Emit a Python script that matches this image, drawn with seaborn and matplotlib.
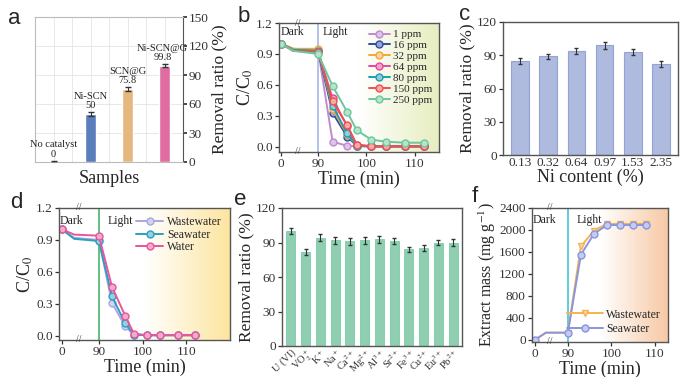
import numpy as np
import pandas as pd
import matplotlib
matplotlib.use("Agg")
import matplotlib.pyplot as plt
import matplotlib.transforms as mtransforms
from matplotlib.colors import LinearSegmentedColormap, to_rgb
import seaborn as sns

sns.set_theme(style="ticks")
plt.rcParams['font.family'] = ['Liberation Serif', 'DejaVu Serif']
plt.rcParams['mathtext.fontset'] = 'stix'

# ---- data ----
# (a) removal by sample
samples = ["No catalyst", "Ni-SCN", "SCN@G", "Ni-SCN@G"]
sample_removal = [0, 50, 75.8, 99.8]
sample_err = [1.2, 2.0, 2.0, 2.0]

# (b) C/C0 vs time for initial concentrations
t_b = [0, 30, 90, 93, 96, 98, 101, 104, 108, 112]
conc_labels = ["1 ppm", "16 ppm", "32 ppm", "64 ppm", "80 ppm", "150 ppm", "250 ppm"]
cc_1 = [1.00, 0.95, 0.94, 0.05, 0.01, 0.005, 0.005, 0.005, 0.005, 0.005]
cc_16 = [1.00, 0.94, 0.93, 0.33, 0.10, 0.01, 0.005, 0.005, 0.005, 0.005]
cc_32 = [1.00, 0.95, 0.95, 0.37, 0.12, 0.01, 0.005, 0.005, 0.005, 0.005]
cc_64 = [1.00, 0.93, 0.92, 0.47, 0.20, 0.02, 0.005, 0.005, 0.005, 0.005]
cc_80 = [1.00, 0.94, 0.93, 0.40, 0.13, 0.01, 0.005, 0.005, 0.005, 0.005]
cc_150 = [1.00, 0.93, 0.92, 0.44, 0.21, 0.02, 0.005, 0.005, 0.005, 0.005]
cc_250 = [1.00, 0.93, 0.90, 0.59, 0.34, 0.16, 0.07, 0.05, 0.04, 0.04]
conc_series = [cc_1, cc_16, cc_32, cc_64, cc_80, cc_150, cc_250]
conc_colors = ["#c08ad0", "#2d4e9e", "#f2a63c", "#e6479b", "#1f9db3", "#ef5050", "#6cc89a"]

# (c) removal vs Ni content
ni_content = ["0.13", "0.32", "0.64", "0.97", "1.53", "2.35"]
ni_removal = [85, 89, 94, 99, 93, 82]
ni_err = [2.5, 2.5, 2.5, 3, 2.5, 2.5]

# (d) C/C0 in different water
t_d = [0, 30, 90, 93, 96, 98, 101, 104, 108, 112]
water_labels = ["Wastewater", "Seawater", "Water"]
cw_waste = [1.00, 0.92, 0.90, 0.31, 0.09, 0.01, 0.005, 0.005, 0.005, 0.005]
cw_sea = [1.00, 0.91, 0.89, 0.37, 0.12, 0.01, 0.005, 0.005, 0.005, 0.005]
cw_water = [1.00, 0.95, 0.94, 0.46, 0.19, 0.02, 0.005, 0.005, 0.005, 0.005]
water_series = [cw_waste, cw_sea, cw_water]
water_colors = ["#a7a7e3", "#2c9fc0", "#e8559a"]

# (e) removal with coexisting ions
ions = ["U (VI)", "VO$_2^+$", "K$^+$", "Na$^+$", "Ca$^{2+}$", "Mg$^{2+}$",
        "Al$^{3+}$", "Sr$^{2+}$", "Fe$^{3+}$", "Cu$^{2+}$", "Eu$^{3+}$", "Pb$^{2+}$"]
ion_removal = [100, 82, 94, 92, 91, 92, 93, 91, 84, 85, 90, 90]
ion_err = [3, 2.5, 3, 3, 3, 3, 3, 2.5, 2.5, 2.5, 2.5, 3]

# (f) extracted mass
t_f = [0, 30, 90, 93, 96, 99, 102, 105, 108]
mass_labels = ["Wastewater", "Seawater"]
m_waste = [0, 130, 130, 1700, 1990, 2110, 2110, 2110, 2110]
m_sea = [0, 130, 130, 1550, 1930, 2090, 2090, 2090, 2090]
mass_colors = ["#f3b44e", "#8a95e0"]
mass_markers = ["v", "o"]

# ---- helpers ----
fig = plt.figure(figsize=(6.89, 3.77), dpi=100)
W, H = 689, 377
TICK = 9.5
LAB = 12.5


def add_ax(l, t, r, b):
    return fig.add_axes([l / W, 1 - b / H, (r - l) / W, (b - t) / H])


def broken_scale(r):
    # compress the dark period 0-90 min
    def fwd(t):
        t = np.asarray(t, float)
        return np.where(t <= 90, t * r, 90 * r + (t - 90))

    def inv(p):
        p = np.asarray(p, float)
        return np.where(p <= 90 * r, p / r, p - 90 * r + 90)
    return fwd, inv


def lighten(c, f=0.5):
    c = np.array(to_rgb(c))
    return tuple(c + (1 - c) * f)


def gradient_bg(box, right_color):
    bg = add_ax(*box)
    cmap = LinearSegmentedColormap.from_list("g", ["#ffffff", "#ffffff", right_color])
    bg.imshow(np.linspace(0, 1, 256)[None, :], aspect="auto", cmap=cmap,
              extent=[0, 1, 0, 1])
    bg.set_axis_off()
    bg.set_zorder(0)
    return bg


def style_box(ax):
    for s in ax.spines.values():
        s.set_color("#555555")
        s.set_linewidth(1.0)
    ax.tick_params(colors="#333333", labelsize=TICK, length=3, width=0.9, pad=1.5)


def break_marks(ax, tpos):
    tr = mtransforms.blended_transform_factory(ax.transData, ax.transAxes)
    for y in (0, 1):
        ax.text(tpos, y, "//", transform=tr, ha="center", va="center",
                fontsize=7, color="#333333", clip_on=False)


def panel_letter(x, y, s):
    fig.text(x / W, 1 - y / H, s, fontsize=16, family=["Liberation Sans", "DejaVu Sans"],
             ha="left", va="top")


# ---- (a) ----
axa = add_ax(35, 17, 183, 162)
bar_cols = ["#444444", "#4a78cc", "#f6b870", "#f25aa0"]
sns.barplot(x=samples, y=sample_removal, hue=samples, palette=bar_cols,
            width=0.28, legend=False, ax=axa, zorder=3)
axa.errorbar(range(len(samples)), sample_removal, yerr=sample_err, fmt="none",
             ecolor="#333333", elinewidth=0.8, capsize=2, zorder=4)
for i, (name, v) in enumerate(zip(samples, sample_removal)):
    axa.text(i - 0.05 * (i == 3), v + 3.5, f"{name}\n{v:g}", ha="center", va="bottom",
             fontsize=7.5, linespacing=1.05, color="#222222", zorder=5)
axa.set_ylim(0, 150)
axa.set_xlim(-0.5, 3.5)
axa.set_yticks(range(0, 151, 30))
axa.yaxis.tick_right()
axa.yaxis.set_label_position("right")
axa.set_ylabel("Removal ratio (%)", fontsize=LAB, labelpad=2)
axa.set_xlabel("Samples", fontsize=13, labelpad=2)
axa.set_xticks(np.arange(-0.5, 3.6, 0.5))
axa.set_xticklabels([])
axa.tick_params(axis="x", length=0)
axa.tick_params(axis="y", labelsize=TICK, length=3, pad=1, colors="#333333")
axa.grid(True, color="#e4e4e4", lw=0.6, zorder=0)
for k, s in axa.spines.items():
    s.set_color("#bbbbbb" if k != "right" else "#555555")
    s.set_linewidth(0.8)
panel_letter(8, 8, "a")

# ---- (b) ----
box_b = (279, 23, 439, 152)
gradient_bg(box_b, "#e6eebf")
axb = add_ax(*box_b)
axb.set_facecolor("none")
axb.set_zorder(1)
for lab, ys, col in zip(conc_labels, conc_series, conc_colors):
    sns.lineplot(x=t_b, y=ys, color=col, marker="o", markersize=5, lw=1.4,
                 markerfacecolor=lighten(col), markeredgecolor=col, mew=1,
                 markevery=[0] + list(range(2, len(t_b))), label=lab, ax=axb)
axb.set_xscale("function", functions=broken_scale(0.085))
axb.set_xlim(-5, 115)
axb.set_xticks([0, 90, 100, 110])
axb.set_ylim(-0.05, 1.2)
axb.set_yticks([0.0, 0.3, 0.6, 0.9, 1.2])
axb.axvline(90, color="#9fb0e3", lw=1.1, zorder=0.5)
tr = mtransforms.blended_transform_factory(axb.transData, axb.transAxes)
axb.text(-2, 0.93, "Dark", transform=tr, fontsize=8.5, va="center")
axb.text(91, 0.93, "Light", transform=tr, fontsize=8.5, va="center")
break_marks(axb, 40)
axb.set_xlabel("Time (min)", fontsize=13, labelpad=0)
axb.set_ylabel("C/C$_0$", fontsize=13, labelpad=1)
axb.legend(loc="upper right", frameon=False, fontsize=8, labelspacing=0.1,
           handlelength=1.9, handletextpad=0.3, borderaxespad=0.2)
style_box(axb)
panel_letter(238, 6, "b")

# ---- (c) ----
axc = add_ax(503, 22, 678, 155)
sns.barplot(x=ni_content, y=ni_removal, color="#a6b6e6", width=0.62,
            edgecolor="#93a3d8", linewidth=0.8, ax=axc, zorder=2)
axc.errorbar(range(len(ni_content)), ni_removal, yerr=ni_err, fmt="none",
             ecolor="#333333", elinewidth=0.8, capsize=1.5, zorder=3)
axc.set_ylim(0, 120)
axc.set_yticks(range(0, 121, 30))
axc.set_xlim(-0.6, 5.6)
axc.set_xlabel("Ni content (%)", fontsize=13, labelpad=0)
axc.set_ylabel("Removal ratio (%)", fontsize=LAB, labelpad=1)
style_box(axc)
axc.tick_params(axis="x", length=0)
panel_letter(459, 4, "c")

# ---- (d) ----
box_d = (59, 208, 230, 340)
gradient_bg(box_d, "#fde5a0")
axd = add_ax(*box_d)
axd.set_facecolor("none")
axd.set_zorder(1)
for lab, ys, col in zip(water_labels, water_series, water_colors):
    sns.lineplot(x=t_d, y=ys, color=col, marker="o", markersize=5, lw=1.4,
                 markerfacecolor=lighten(col), markeredgecolor=col, mew=1,
                 markevery=[0] + list(range(2, len(t_d))), label=lab, ax=axd)
axd.set_xscale("function", functions=broken_scale(0.094))
axd.set_xlim(-7, 120)
axd.set_xticks([0, 90, 100, 110])
axd.set_ylim(-0.04, 1.2)
axd.set_yticks([0.0, 0.3, 0.6, 0.9, 1.2])
axd.axvline(90, color="#45b86a", lw=1.2, zorder=0.5)
tr = mtransforms.blended_transform_factory(axd.transData, axd.transAxes)
axd.text(-5, 0.9, "Dark", transform=tr, fontsize=8.5, va="center")
axd.text(92, 0.9, "Light", transform=tr, fontsize=8.5, va="center")
break_marks(axd, 40)
axd.set_xlabel("Time (min)", fontsize=13, labelpad=0)
axd.set_ylabel("C/C$_0$", fontsize=13, labelpad=1)
axd.legend(loc="upper right", frameon=False, fontsize=8.5, labelspacing=0.05,
           handlelength=2.3, handletextpad=0.3, borderaxespad=0.3)
style_box(axd)
panel_letter(10, 192, "d")

# ---- (e) ----
axe = add_ax(282, 208, 462, 346)
sns.barplot(x=ions, y=ion_removal, color="#84d9b2", width=0.62,
            edgecolor="#76cfa5", linewidth=0.6, ax=axe, zorder=2)
axe.errorbar(range(len(ions)), ion_removal, yerr=ion_err, fmt="none",
             ecolor="#333333", elinewidth=0.8, capsize=1.2, zorder=3)
axe.set_ylim(0, 120)
axe.set_yticks(range(0, 121, 30))
axe.set_xlim(-0.6, 11.6)
axe.set_ylabel("Removal ratio (%)", fontsize=LAB, labelpad=1)
style_box(axe)
axe.tick_params(axis="x", length=0, labelsize=7.5, pad=1)
plt.setp(axe.get_xticklabels(), rotation=45, ha="right", rotation_mode="anchor")
panel_letter(234, 189, "e")

# ---- (f) ----
box_f = (532, 208, 668, 342)
gradient_bg(box_f, "#f7c9a5")
axf = add_ax(*box_f)
axf.set_facecolor("none")
axf.set_zorder(1)
for lab, ys, col, mk in zip(mass_labels, [m_waste, m_sea], mass_colors, mass_markers):
    sns.lineplot(x=t_f, y=ys, color=col, marker=mk, markersize=5, lw=1.4,
                 markerfacecolor=lighten(col), markeredgecolor=col, mew=1,
                 markevery=[0] + list(range(2, len(t_f))), label=lab, ax=axf)
axf.set_xscale("function", functions=broken_scale(0.084))
axf.set_xlim(-8, 113)
axf.set_xticks([0, 90, 100, 110])
axf.set_ylim(-40, 2400)
axf.set_yticks(range(0, 2401, 400))
axf.axvline(90, color="#45c3d6", lw=1.2, zorder=0.5)
tr = mtransforms.blended_transform_factory(axf.transData, axf.transAxes)
axf.text(-5, 0.91, "Dark", transform=tr, fontsize=8.5, va="center")
axf.text(92, 0.91, "Light", transform=tr, fontsize=8.5, va="center")
break_marks(axf, 40)
axf.set_xlabel("Time (min)", fontsize=13, labelpad=0)
axf.set_ylabel("Extract mass (mg g$^{-1}$)", fontsize=11.5, labelpad=1)
axf.legend(loc="lower right", frameon=False, fontsize=8.5, labelspacing=0.2,
           handlelength=3.0, handletextpad=0.3, borderaxespad=0.2)
style_box(axf)
panel_letter(472, 186, "f")

fig.savefig("out.png", dpi=100)
